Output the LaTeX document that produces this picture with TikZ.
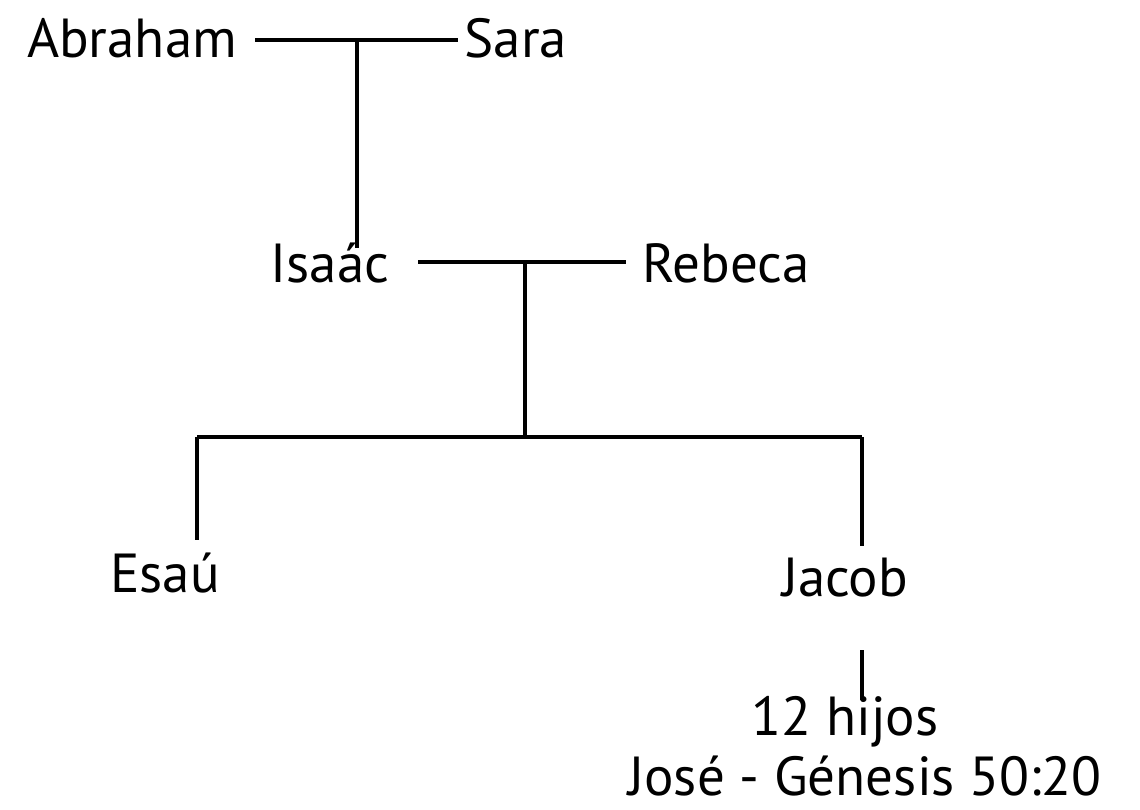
\documentclass[tikz,border=0pt]{standalone}
\usepackage{fontspec}
\setmainfont{PT Sans}
\begin{document}
\begin{tikzpicture}[x=1pt,y=-1pt,
  person/.style={anchor=base,inner sep=0pt,font=\fontsize{55}{62}\selectfont},
  link/.style={line width=3.5pt}]
\useasboundingbox (0,0) rectangle (1140,809);
\node[person] (abr) at (132,57) {Abraham};
\node[person] (sara) at (516,57) {Sara};
\node[person] (isaac) at (330,282) {Isaác};
\node[person] (rebeca) at (726,282) {Rebeca};
\node[person] (esau) at (165,592) {Esaú};
\node[person] (jacob) at (845,596) {Jacob};
\node[person] (hijos) at (845,735) {12 hijos};
\node[person] (jose) at (865,795) {José - Génesis 50:20};
% couple 1
\coordinate (c1l) at (255,40);
\coordinate (c1r) at (458,40);
\coordinate (c1m) at (357,40);
\draw[link] (c1l) -- (c1r);
\draw[link] (c1m) -- ([yshift=-6pt]c1m |- isaac.north);
% couple 2
\coordinate (c2l) at (418,262);
\coordinate (c2r) at (626,262);
\coordinate (c2m) at (525,262);
\coordinate (bar) at (525,437);
\draw[link] (c2l) -- (c2r);
\draw[link] (c2m) -- (bar);
% children bar
\coordinate (barl) at (197,437);
\coordinate (barr) at (862,437);
\draw[link] (barl) -- (barr);
\draw[link] (barl) -- (197,540);
\draw[link] (barr) -- (862,546);
% Jacob to sons
\draw[link] (862,650) -- (862,700);
\end{tikzpicture}
\end{document}
